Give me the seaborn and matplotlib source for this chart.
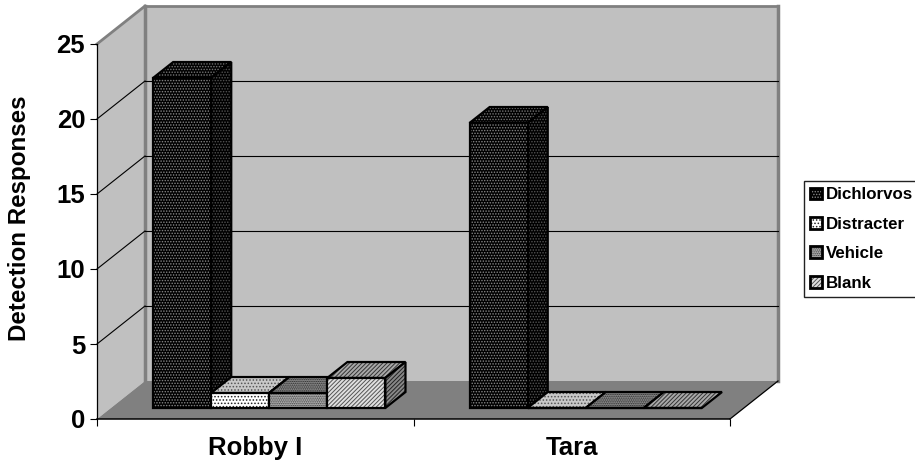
import pandas as pd
import seaborn as sns
import matplotlib.pyplot as plt
from matplotlib.patches import Polygon, Rectangle
from matplotlib.transforms import Affine2D, IdentityTransform

sns.set_style('white')
plt.rcParams['font.family'] = ['Liberation Sans']
plt.rcParams['font.weight'] = 'bold'
plt.rcParams['hatch.linewidth'] = 0.7

subjects = ['Robby I', 'Tara']
odors = ['Dichlorvos', 'Distracter', 'Vehicle', 'Blank']
robby_values = [22, 1, 1, 2]
tara_values = [19, 0, 0, 0]
y_ticks = [0, 5, 10, 15, 20, 25]

# front, top, side fill / hatch colour for each series
styles = {
    'Dichlorvos': dict(hatch='......', front=('#000000', '#888888'), top=('#000000', '#777777'), side=('#000000', '#555555')),
    'Distracter': dict(hatch='.....', front=('#ffffff', '#222222'), top=('#c8c8c8', '#555555'), side=('#808080', '#222222')),
    'Vehicle': dict(hatch='.........', front=('#b8b8b8', '#333333'), top=('#909090', '#222222'), side=('#666666', '#222222')),
    'Blank': dict(hatch='/' * 8, front=('#e0e0e0', '#555555'), top=('#a8a8a8', '#333333'), side=('#888888', '#222222')),
}

# depth of the box in pixels, and where the bars sit inside it
DX, DY = 48, 38
BAR_D0, BAR_D1 = 0.29, 0.71

W, H = 915, 466
fig = plt.figure(figsize=(W / 100, H / 100), dpi=100)
ax = fig.add_axes([97 / W, 1 - 419 / H, 633 / W, 375 / H])

df = pd.DataFrame({
    'subject': [s for s in subjects for _ in odors],
    'odor': odors * 2,
    'responses': robby_values + tara_values,
})
sns.barplot(data=df, x='subject', y='responses', hue='odor', hue_order=odors,
            width=0.734, dodge=True, legend=False, ax=ax, errorbar=None)
ax.set_xlim(-0.5, 1.5)
ax.set_ylim(0, 25)


def px(x, y, d=0.0):
    X, Y = ax.transData.transform((x, y))
    return X + d * DX, Y + d * DY


def poly(pts, z, fc='none', ec='none', lw=0.0, hatch=None):
    p = Polygon(pts, closed=True, facecolor=fc, edgecolor=ec, linewidth=lw, hatch=hatch,
                clip_on=False, zorder=z)
    ax.add_patch(p)
    p.set_transform(IdentityTransform())
    return p


def line(a, b, color, lw, z):
    ax.plot([a[0], b[0]], [a[1], b[1]], color=color, lw=lw, transform=IdentityTransform(),
            clip_on=False, zorder=z, solid_capstyle='projecting')


x0, x1 = ax.get_xlim()
y_top = y_ticks[-1]

# walls and floor
poly([px(x0, 0), px(x0, y_top), px(x0, y_top, 1), px(x0, 0, 1)], 0.1, fc='#c0c0c0')
poly([px(x0, 0, 1), px(x0, y_top, 1), px(x1, y_top, 1), px(x1, 0, 1)], 0.1, fc='#c0c0c0')
poly([px(x0, 0), px(x1, 0), px(x1, 0, 1), px(x0, 0, 1)], 0.2, fc='#808080')
for t in y_ticks[1:-1]:
    line(px(x0, t), px(x0, t, 1), 'black', 0.8, 0.3)
    line(px(x0, t, 1), px(x1, t, 1), 'black', 0.8, 0.3)
line(px(x0, y_top), px(x0, y_top, 1), '#808080', 2.0, 0.4)
line(px(x0, y_top, 1), px(x1, y_top, 1), '#808080', 2.0, 0.4)
line(px(x0, y_top, 1), px(x0, 0, 1), '#808080', 2.5, 0.25)
line(px(x1, y_top, 1), px(x1, 0, 1), '#808080', 2.5, 0.25)
line(px(x1, 0), px(x1, 0, 1), 'black', 0.9, 0.4)

# turn the seaborn bars into boxes, painted left to right
bars = []
for cont, odor in zip(ax.containers, odors):
    for rect in cont:
        bars.append((rect.get_x(), rect, odor))
bars.sort(key=lambda b: b[0])

front_tf = ax.transData + Affine2D().translate(BAR_D0 * DX, BAR_D0 * DY)
z = 1.0
for xpos, rect, odor in bars:
    st = styles[odor]
    w, h = rect.get_width(), rect.get_height()
    fc, hc = st['top']
    top = [px(xpos, h, BAR_D0), px(xpos + w, h, BAR_D0), px(xpos + w, h, BAR_D1), px(xpos, h, BAR_D1)]
    poly(top, z, fc=fc, ec=hc, hatch=st['hatch'])
    poly(top, z + 0.01, ec='black', lw=1.6)
    if h > 0:
        fc, hc = st['side']
        side = [px(xpos + w, 0, BAR_D0), px(xpos + w, h, BAR_D0), px(xpos + w, h, BAR_D1), px(xpos + w, 0, BAR_D1)]
        poly(side, z + 0.02, fc=fc, ec=hc, hatch=st['hatch'])
        poly(side, z + 0.03, ec='black', lw=1.6)
    fc, hc = st['front']
    rect.set_transform(front_tf)
    rect.set_clip_on(False)
    rect.set_facecolor(fc)
    rect.set_edgecolor(hc)
    rect.set_hatch(st['hatch'])
    rect.set_linewidth(0)
    rect.set_zorder(z + 0.04)
    poly([px(xpos, 0, BAR_D0), px(xpos + w, 0, BAR_D0), px(xpos + w, h, BAR_D0), px(xpos, h, BAR_D0)],
         z + 0.05, ec='black', lw=1.6)
    z += 0.1

# axes
sns.despine(ax=ax, top=True, right=True)
ax.spines['left'].set_color('black')
ax.spines['left'].set_linewidth(0.9)
ax.spines['bottom'].set_color('black')
ax.spines['bottom'].set_linewidth(1.1)
ax.spines['left'].set_zorder(0.5)
ax.spines['bottom'].set_zorder(0.5)
ax.patch.set_visible(False)
ax.set_yticks(y_ticks)
ax.set_xticks([-0.5, 0.5, 1.5], labels=['', '', ''])
ax.set_xticks([0, 1], labels=subjects, minor=True)
ax.tick_params(axis='y', which='major', left=True, length=5, width=0.8, color='black', labelsize=18.5, pad=3.5, labelcolor='black')
ax.tick_params(axis='x', which='major', bottom=True, length=5, width=0.8, color='black')
ax.tick_params(axis='x', which='minor', bottom=False, labelsize=18.5, pad=10.5, labelcolor='black')
ax.set_xlabel('')
ax.set_ylabel('Detection Responses', fontsize=17.4, fontweight='bold', color='black')
ax.yaxis.set_label_coords(-0.105, 0.535)


class BoxKey:
    def __init__(self, odor):
        self.odor = odor

    def legend_artist(self, legend, orig, fontsize, box):
        st = styles[self.odor]
        fc, hc = st['front']
        s = box.height * 1.0
        y = box.ydescent * -1 + (box.height - s) / 2
        r = Rectangle((0, y), s, s, facecolor=fc, edgecolor=hc, hatch=st['hatch'], linewidth=0,
                      transform=box.get_transform())
        o = Rectangle((0, y), s, s, fill=False, edgecolor='black', linewidth=2,
                      transform=box.get_transform())
        box.add_artist(r)
        box.add_artist(o)
        return r


handles = [Rectangle((0, 0), 1, 1) for _ in odors]
handler_map = {h: BoxKey(o) for h, o in zip(handles, odors)}
leg = fig.legend(handles, odors, handler_map=handler_map, loc='upper left',
                 bbox_to_anchor=(804 / W, 1 - 181 / H), bbox_transform=fig.transFigure,
                 fontsize=12.2, frameon=True, fancybox=False, edgecolor='#222222', framealpha=1,
                 borderaxespad=0, borderpad=0.38, labelspacing=0.85, handlelength=0.7,
                 handletextpad=0.2, handleheight=0.7)
leg.get_frame().set_linewidth(1.0)
for t in leg.get_texts():
    t.set_color('black')
    t.set_fontweight('bold')

fig.savefig('out.png', dpi=100, facecolor='white')
